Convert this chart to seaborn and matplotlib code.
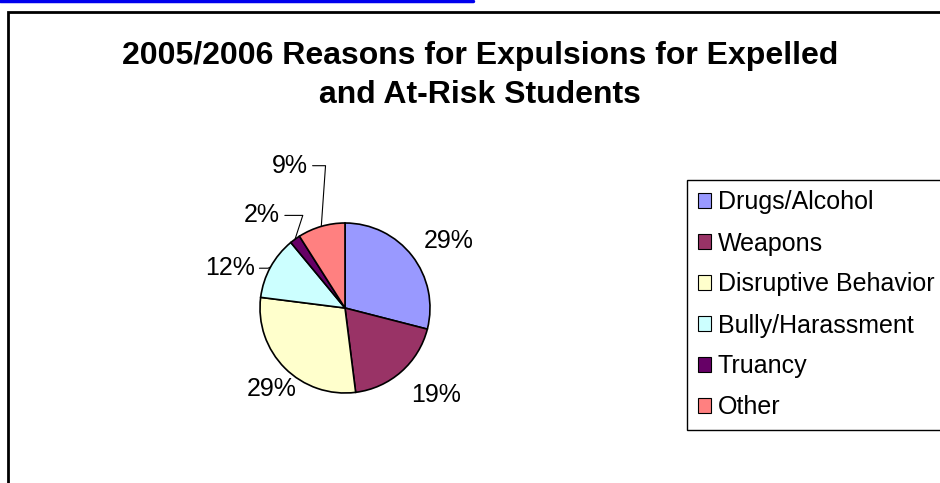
import numpy as np
import matplotlib
matplotlib.use("Agg")
import matplotlib.pyplot as plt
import seaborn as sns
from matplotlib.patches import Rectangle, Patch
from matplotlib.lines import Line2D

sns.set_theme(style="white")
plt.rcParams['font.family'] = ['Liberation Sans', 'DejaVu Sans']
plt.rcParams['text.color'] = 'black'

title = "2005/2006 Reasons for Expulsions for Expelled\nand At-Risk Students"
categories = ["Drugs/Alcohol", "Weapons", "Disruptive Behavior",
              "Bully/Harassment", "Truancy", "Other"]
values = [29, 19, 29, 12, 2, 9]
colors = ["#9999FF", "#993366", "#FFFFCC", "#CCFFFF", "#660066", "#FF8080"]

W, H = 940, 483
fig = plt.figure(figsize=(W / 100, H / 100), dpi=100)
fig.patch.set_facecolor("white")

# hyperlink underline remnant at top
fig.add_artist(Line2D([0, 473 / W], [1 - 1 / H, 1 - 1 / H], color="#0000EE", lw=2.5))
# chart border
fig.add_artist(Rectangle((8 / W, 0 - 0.05), 1.0, (H - 12) / H + 0.05, fill=False,
                         edgecolor="black", lw=2, transform=fig.transFigure))

fig.text(480 / W, 1 - 41 / H, title, ha="center", va="top", fontsize=23,
         fontweight="bold", linespacing=1.37, color="black")

cx, cy, r = 345, 308, 85
ax = fig.add_axes([(cx - r) / W, (H - cy - r) / H, 2 * r / W, 2 * r / H])
wedges, _ = ax.pie(values, colors=colors, startangle=90, counterclock=False,
                   wedgeprops=dict(edgecolor="black", linewidth=1.2))
ax.set_xlim(-1, 1)
ax.set_ylim(-1, 1)
ax.set_aspect("equal")
ax.axis("off")

# label placement style per slice: radial distance (radii) and angle shift (deg)
dists = [1.45, 1.48, 1.29, 1.16, 1.33, 1.73]
shifts = [-5, 5, 3, 5, -1, -1.6]
elbow = [None, None, None, 25, 72, 86]
for i, (w, v) in enumerate(zip(wedges, values)):
    mid = (w.theta1 + w.theta2) / 2
    ang = np.deg2rad(mid + shifts[i])
    d = dists[i]
    tx, ty = d * np.cos(ang), d * np.sin(ang)
    txt = f"{v}%"
    if elbow[i] is None:
        ax.text(tx, ty, txt, ha="center", va="center", fontsize=18, clip_on=False,
                color="black")
    else:
        ex, ey = np.cos(np.deg2rad(mid)), np.sin(np.deg2rad(mid))
        ax.annotate(txt, xy=(ex, ey), xytext=(tx, ty), ha="right", va="center",
                    fontsize=18, annotation_clip=False, color="black",
                    arrowprops=dict(arrowstyle="-", color="black", lw=0.8,
                                    shrinkA=1, shrinkB=0, relpos=(1, 0.5),
                                    connectionstyle=f"angle,angleA=0,angleB={elbow[i]},rad=0"))

handles = [Patch(facecolor=c, edgecolor="black", lw=0.8) for c in colors]
leg = fig.legend(handles, categories, loc="upper left",
                 bbox_to_anchor=(687 / W, 1 - 180 / H), fontsize=18,
                 frameon=True, fancybox=False, framealpha=1, edgecolor="black",
                 handlelength=0.52, handleheight=0.52, handletextpad=0.3,
                 labelspacing=0.68, borderpad=0.42, borderaxespad=0)
leg.get_frame().set_linewidth(1)
for t in leg.get_texts():
    t.set_color("black")

fig.savefig("out.png", dpi=100)
